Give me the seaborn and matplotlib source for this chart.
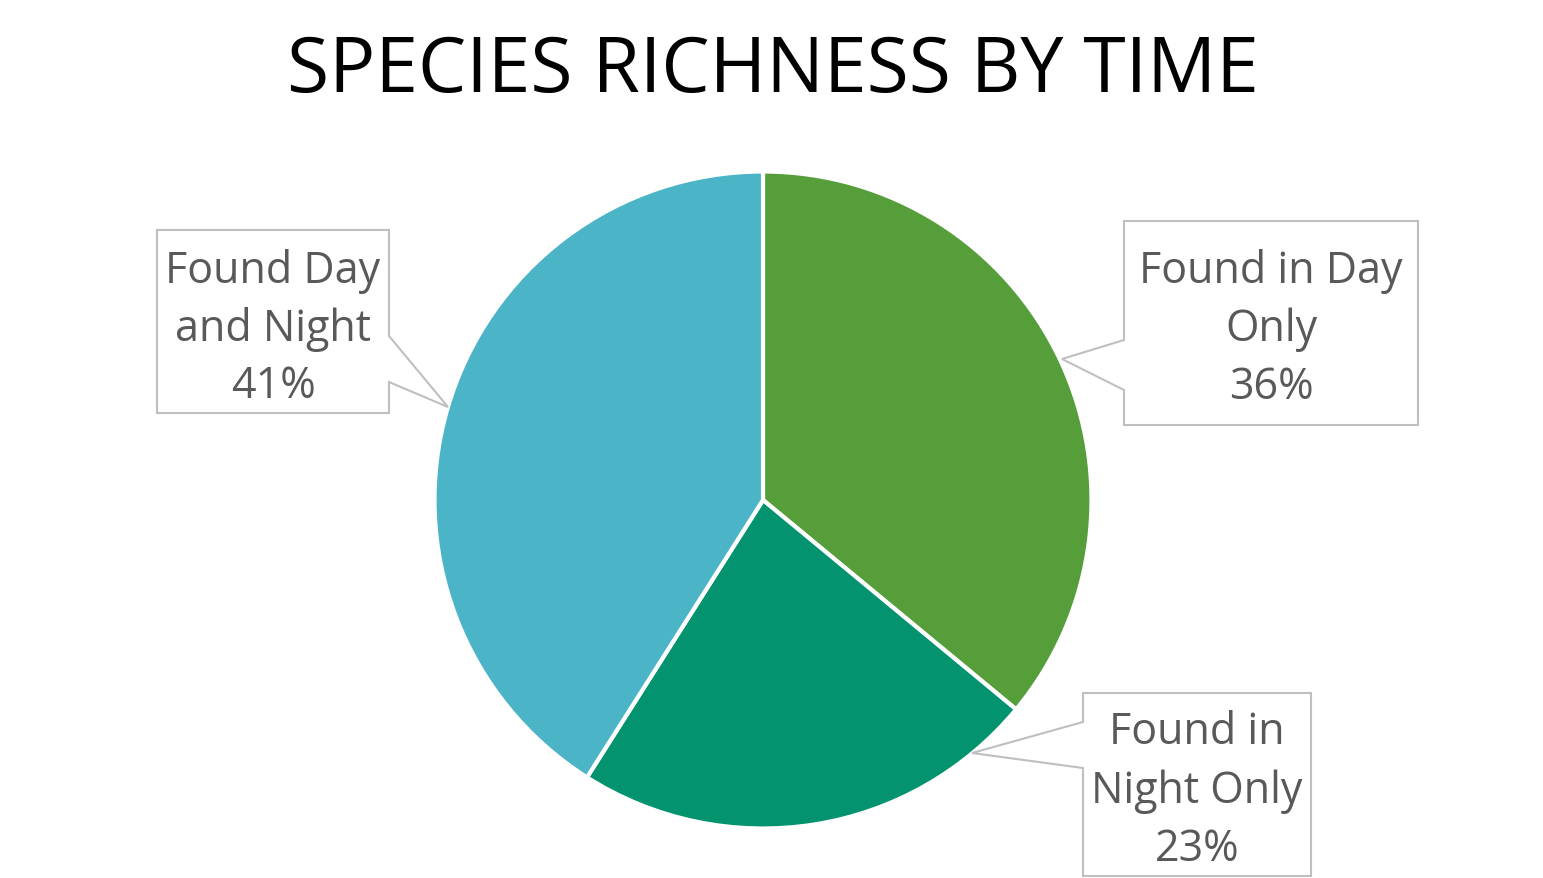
import matplotlib
matplotlib.use("Agg")
import matplotlib.pyplot as plt
from matplotlib.patches import Polygon
import seaborn as sns

categories = ["Found in Day Only", "Found in Night Only", "Found Day and Night"]
label_lines = [["Found in Day", "Only"], ["Found in", "Night Only"], ["Found Day", "and Night"]]
values = [36, 23, 41]
colors = ["#559E3A", "#03936F", "#4BB4C6"]
title = "SPECIES RICHNESS BY TIME"

sns.set_theme(style="white")
plt.rcParams["font.family"] = ["Open Sans", "DejaVu Sans"]

W, H = 1543, 879
fig = plt.figure(figsize=(W / 100, H / 100), dpi=100)
ax = fig.add_axes([0, 0, 1, 1])

ax.pie(values, colors=colors, startangle=90, counterclock=False,
       center=(763, H - 501), radius=328.5,
       wedgeprops=dict(edgecolor="white", linewidth=3))

ax.set_xlim(0, W)
ax.set_ylim(0, H)
ax.set_aspect("equal")
ax.axis("off")

# callout boxes (pixel layout, y measured from top)
callouts = [
    dict(rect=(1124, 222, 1418, 426), ptr=[(1124, 341), (1062, 360), (1124, 391)], side="left",
         cx=1271, baselines=[283, 341, 399]),
    dict(rect=(1083, 694, 1311, 877), ptr=[(1083, 723), (972, 754), (1083, 769)], side="left",
         cx=1197, baselines=[744, 803, 861]),
    dict(rect=(157, 231, 389, 414), ptr=[(389, 337), (448, 408), (389, 383)], side="right",
         cx=273, baselines=[283, 341, 398]),
]

for c, lines, v in zip(callouts, label_lines, values):
    x0, y0, x1, y1 = c["rect"]
    p = c["ptr"]
    if c["side"] == "left":
        pts = [(x0, y0), (x1, y0), (x1, y1), (x0, y1), p[2], p[1], p[0]]
    else:
        pts = [(x0, y0), (x1, y0), p[0], p[1], p[2], (x1, y1), (x0, y1)]
    pts = [(x, H - y) for x, y in pts]
    ax.add_patch(Polygon(pts, closed=True, facecolor="white", edgecolor="#BFBFBF",
                         linewidth=1.5, zorder=5))
    texts = lines + [f"{v}%"]
    for t, b in zip(texts, c["baselines"]):
        ax.text(c["cx"], H - b, t, ha="center", va="baseline", fontsize=31,
                color="#595959", zorder=6)

ax.text(773, H - 92, title, ha="center", va="baseline", fontsize=55.3, color="black")

fig.savefig("out.png", dpi=100, facecolor="white")
